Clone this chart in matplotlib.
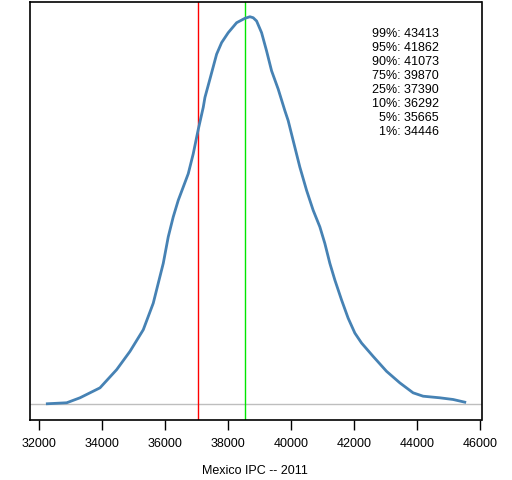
import matplotlib.pyplot as plt

plt.rcParams['font.family'] = ['Liberation Sans', 'DejaVu Sans']

# density curve (height in relative units, peak ~389)
ipc = [32272, 32887, 33308, 33942, 34471, 34892, 35313, 35630, 35788, 35947,
       36105, 36263, 36422, 36580, 36739, 36897, 37055, 37214, 37268, 37426,
       37638, 37796, 38006, 38272, 38534, 38693, 38797, 38905, 39063, 39221,
       39380, 39589, 39801, 39906, 40064, 40276, 40489, 40698, 40910, 41068,
       41227, 41385, 41597, 41806, 42019, 42231, 42598, 43023, 43444, 43865,
       44182, 44710, 45132, 45503]
density = [0.7, 1.7, 6.7, 16.7, 35, 53.3, 75, 101.7, 121.7, 141.7,
           168.3, 188.3, 205, 218.3, 231.7, 251.7, 276, 298.3, 308.3, 326.7,
           351.7, 363.3, 373.3, 383.3, 387.7, 389.3, 388.3, 385, 373.3, 355,
           335, 316.7, 295, 285, 265, 238.3, 215, 195, 178.3, 161.7,
           141.7, 125, 105, 86.7, 71.7, 61.7, 48.3, 33.3, 21.7, 11.7,
           8.3, 6.7, 5, 2.3]

red_line = 37055
green_line = 38545

quant_labels = ["99%", "95%", "90%", "75%", "25%", "10%", "5%", "1%"]
quant_values = [43413, 41862, 41073, 39870, 37390, 36292, 35665, 34446]

xticks = [32000, 34000, 36000, 38000, 40000, 42000, 44000, 46000]

fig = plt.figure(figsize=(5.12, 4.8), dpi=100)
ax = fig.add_axes([30.3 / 512, (480 - 420) / 480, (481.5 - 30.3) / 512, (420 - 1.5) / 480])

ax.axhline(0, color="#bebebe", lw=1)
ax.axvline(red_line, color="red", lw=1)
ax.axvline(green_line, color="#00e600", lw=1)
ax.plot(ipc, density, color="steelblue", lw=2)

ax.set_xlim(31733, 46033)
ax.set_ylim(-15.6, 404.6)
ax.set_yticks([])
ax.set_xticks(xticks)
ax.set_xticklabels([str(t) for t in xticks], fontsize=9)
ax.tick_params(axis="x", length=7, width=1, pad=6)
for s in ax.spines.values():
    s.set_linewidth(1.2)

text = "\n".join(f"{q}: {v}" for q, v in zip(quant_labels, quant_values))
ax.text(0.905, 0.936, text, transform=ax.transAxes, ha="right", va="top",
        fontsize=9, linespacing=1.22, multialignment="right")

fig.text(255 / 512, 1 - 471 / 480, "Mexico IPC -- 2011", ha="center", va="center", fontsize=9)

fig.savefig("out.png", dpi=100)
